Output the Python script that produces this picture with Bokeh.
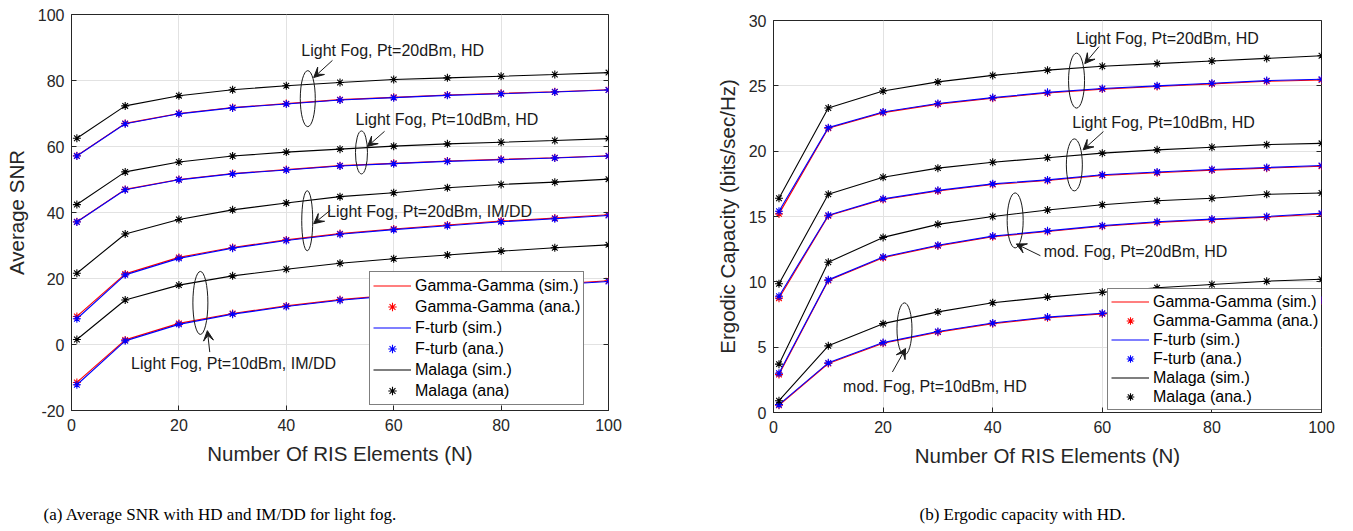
from bokeh.plotting import figure
from bokeh.models import (Legend, LegendItem, Arrow, VeeHead, FixedTicker,
                          LinearAxis, Title, Range1d, Spacer)
from bokeh.layouts import row, column
from bokeh.core.properties import value
from bokeh.embed import file_html
from bokeh.resources import INLINE

# ---------------- data ----------------
N = [1, 10, 20, 30, 40, 50, 60, 70, 80, 90, 100]

# (a) Average SNR
snr_gg_hd20 = [57.2, 67.0, 70.0, 71.8, 73.0, 74.2, 74.9, 75.6, 76.1, 76.6, 77.2]
snr_ft_hd20 = [57.1, 66.9, 69.9, 71.7, 72.9, 74.1, 74.8, 75.5, 76.0, 76.5, 77.1]
snr_ml_hd20 = [62.5, 72.3, 75.4, 77.2, 78.4, 79.4, 80.3, 80.8, 81.3, 81.8, 82.4]
snr_gg_hd10 = [37.2, 47.0, 50.0, 51.8, 53.0, 54.2, 54.9, 55.6, 56.1, 56.6, 57.2]
snr_ft_hd10 = [37.1, 46.9, 49.9, 51.7, 52.9, 54.1, 54.8, 55.5, 56.0, 56.5, 57.1]
snr_ml_hd10 = [42.4, 52.3, 55.3, 57.1, 58.3, 59.2, 60.1, 60.8, 61.3, 61.8, 62.4]
snr_gg_im20 = [8.5, 21.4, 26.4, 29.4, 31.7, 33.6, 35.0, 36.2, 37.4, 38.3, 39.3]
snr_ft_im20 = [7.8, 21.1, 26.1, 29.2, 31.5, 33.4, 34.8, 36.0, 37.2, 38.1, 39.1]
snr_ml_im20 = [21.6, 33.5, 37.9, 40.8, 42.9, 44.8, 46.0, 47.5, 48.5, 49.2, 50.1]
snr_gg_im10 = [-11.5, 1.4, 6.4, 9.4, 11.7, 13.6, 15.0, 16.2, 17.4, 18.3, 19.3]
snr_ft_im10 = [-12.2, 1.1, 6.1, 9.2, 11.5, 13.4, 14.8, 16.0, 17.2, 18.1, 19.1]
snr_ml_im10 = [1.5, 13.5, 18.0, 20.8, 22.8, 24.6, 26.0, 27.1, 28.3, 29.3, 30.2]

# (b) Ergodic capacity
cap_gg_l20 = [15.2, 21.75, 22.95, 23.6, 24.05, 24.45, 24.75, 24.95, 25.15, 25.35, 25.45]
cap_ft_l20 = [15.4, 21.8, 23.0, 23.65, 24.1, 24.5, 24.8, 25.0, 25.2, 25.4, 25.5]
cap_ml_l20 = [16.4, 23.3, 24.6, 25.3, 25.8, 26.2, 26.5, 26.7, 26.9, 27.1, 27.3]
cap_gg_l10 = [8.75, 15.05, 16.3, 16.95, 17.45, 17.75, 18.15, 18.35, 18.55, 18.7, 18.85]
cap_ft_l10 = [8.9, 15.1, 16.35, 17.0, 17.5, 17.8, 18.2, 18.4, 18.6, 18.75, 18.9]
cap_ml_l10 = [9.85, 16.7, 18.0, 18.7, 19.15, 19.5, 19.85, 20.1, 20.3, 20.5, 20.6]
cap_gg_m20 = [2.9, 10.1, 11.85, 12.75, 13.45, 13.85, 14.25, 14.55, 14.75, 14.95, 15.2]
cap_ft_m20 = [3.0, 10.15, 11.9, 12.8, 13.5, 13.9, 14.3, 14.6, 14.8, 15.0, 15.25]
cap_ml_m20 = [3.7, 11.5, 13.4, 14.4, 15.0, 15.5, 15.9, 16.2, 16.4, 16.7, 16.8]
cap_gg_m10 = [0.55, 3.75, 5.3, 6.15, 6.8, 7.25, 7.55, 7.85, 8.1, 8.35, 8.55]
cap_ft_m10 = [0.6, 3.8, 5.35, 6.2, 6.85, 7.3, 7.6, 7.9, 8.15, 8.4, 8.6]
cap_ml_m10 = [0.9, 5.1, 6.8, 7.7, 8.4, 8.83, 9.2, 9.55, 9.8, 10.05, 10.2]

x_ticks = [0, 20, 40, 60, 80, 100]
snr_ticks = [-20, 0, 20, 40, 60, 80, 100]
cap_ticks = [0, 5, 10, 15, 20, 25, 30]

snr_labels = ["Gamma-Gamma (sim.)", "Gamma-Gamma (ana.)", "F-turb (sim.)",
              "F-turb (ana.)", "Malaga (sim.)", "Malaga (ana)"]
cap_labels = ["Gamma-Gamma (sim.)", "Gamma-Gamma (ana.)", "F-turb (sim.)",
              "F-turb (ana.)", "Malaga (sim.)", "Malaga (ana.)"]

# annotations: text (label, x, y), ellipse (x, y, w_px, h_px), arrow (x0, y0, x1, y1)
snr_notes = [
    ("Light Fog, Pt=20dBm, HD", 42.8, 89.1, 44.0, 74.5, 15, 56, 48.6, 86.1, 45.1, 80.9),
    ("Light Fog, Pt=10dBm, HD", 52.9, 68.2, 54.0, 58.2, 12, 43, 58.3, 64.6, 55.1, 60.0),
    ("Light Fog, Pt=20dBm, IM/DD", 47.6, 40.4, 43.9, 37.5, 11, 60, 48.2, 40.7, 45.1, 36.6),
    ("Light Fog, Pt=10dBm, IM/DD", 11.1, -5.85, 24.0, 12.6, 15, 63, 25.75, -2.3, 25.3, 4.2),
]
cap_notes = [
    ("Light Fog, Pt=20dBm, HD", 55.2, 28.6, 55.3, 25.4, 16, 55, 59.4, 28.0, 56.8, 26.7),
    ("Light Fog, Pt=10dBm, HD", 54.5, 22.2, 54.9, 18.95, 16, 52, 60.2, 21.5, 56.5, 20.1),
    ("mod. Fog, Pt=20dBm, HD", 49.3, 12.35, 44.1, 14.7, 16, 55, 48.7, 12.0, 44.3, 12.9),
    ("mod. Fog, Pt=10dBm, HD", 12.7, 2.0, 23.9, 6.4, 15, 52, 21.7, 3.1, 24.1, 4.9),
]

FONT = "Liberation Sans"
DARK = "#262626"


def add_caption(p, caption, gap, offset):
    # empty axis used only as vertical space, then the caption as a left-aligned title
    pad = LinearAxis(ticker=FixedTicker(ticks=[]), axis_line_color=None,
                     major_tick_line_color=None, minor_tick_line_color=None,
                     major_label_text_font_size="0px", major_label_standoff=0,
                     major_tick_in=0, major_tick_out=0, minor_tick_out=0,
                     axis_label="\u00a0", axis_label_text_font_size="17px",
                     axis_label_text_color="#ffffff", axis_label_standoff=gap)
    p.add_layout(pad, "below")
    cap = Title(text=caption, align="left", offset=offset, standoff=0,
                text_font="Liberation Serif", text_font_size="17px",
                text_font_style="normal", text_color="#000000")
    p.add_layout(cap, "below")


def make_fig(width, height, bl, br, bt, bb, yr, yticks, ylabel, groups, labels, notes,
             leg_loc, leg_row):
    p = figure(width=width, height=height, output_backend="svg", toolbar_location=None,
               x_range=Range1d(0, 100), y_range=Range1d(*yr),
               min_border_left=bl, min_border_right=br, min_border_top=bt,
               min_border_bottom=bb, background_fill_color="white",
               border_fill_color="white", outline_line_color=DARK,
               outline_line_width=1)
    p.xaxis.ticker = FixedTicker(ticks=x_ticks)
    p.yaxis.ticker = FixedTicker(ticks=yticks)
    p.yaxis.major_label_overrides = {t: str(t) for t in yticks}
    p.xaxis.axis_label = "Number Of RIS Elements (N)"
    p.yaxis.axis_label = ylabel
    for ax in (p.xaxis[0], p.yaxis[0]):
        ax.major_label_text_font = FONT
        ax.major_label_text_font_size = "16px"
        ax.major_label_text_color = DARK
        ax.axis_label_text_font = FONT
        ax.axis_label_text_font_size = "20.5px"
        ax.axis_label_text_font_style = "normal"
        ax.axis_label_text_color = DARK
        ax.axis_line_color = DARK
        ax.major_tick_in = 5
        ax.major_tick_out = 0
        ax.major_tick_line_color = DARK
        ax.minor_tick_line_color = None
    p.xaxis.major_label_standoff = 8
    p.xaxis.axis_label_standoff = 8
    p.yaxis.major_label_standoff = 7
    p.yaxis.axis_label_standoff = 7
    rax = LinearAxis(ticker=FixedTicker(ticks=yticks), major_label_text_font_size="0px",
                     major_label_text_color=None, axis_line_color=None,
                     major_tick_in=5, major_tick_out=0, major_tick_line_color=DARK,
                     minor_tick_line_color=None, major_label_standoff=0)
    p.add_layout(rax, "right")
    p.xgrid.grid_line_color = "#e2e2e2"
    p.ygrid.grid_line_color = "#e2e2e2"

    first = {}
    for gg, ft, ml in groups:
        for key, ys, col in (("gg", gg, "#ff0000"), ("ft", ft, "#0000ff"), ("ml", ml, "#000000")):
            ln = p.line(N, ys, line_color=col, line_width=1.1)
            sc = p.scatter(N, ys, marker="asterisk", size=8, line_color=col, line_width=1.1)
            first.setdefault(key, (ln, sc))

    for (txt, tx, ty, ex, ey, ew, eh, ax0, ay0, ax1, ay1) in notes:
        p.text(x=[tx], y=[ty], text=[txt], text_font=value(FONT), text_font_size="16px",
               text_color="#1a1a1a", text_baseline="middle", text_align="left")
        p.ellipse(x=[ex], y=[ey], width=[ew], height=[eh], width_units="screen",
                  height_units="screen", fill_color=None, line_color="#1a1a1a",
                  line_width=1)
        p.add_layout(Arrow(x_start=ax0, y_start=ay0, x_end=ax1, y_end=ay1,
                           line_color="#1a1a1a", line_width=1,
                           end=VeeHead(size=10, fill_color="#1a1a1a",
                                       line_color="#1a1a1a", line_width=1)))

    items = [
        LegendItem(label=labels[0], renderers=[first["gg"][0]]),
        LegendItem(label=labels[1], renderers=[first["gg"][1]]),
        LegendItem(label=labels[2], renderers=[first["ft"][0]]),
        LegendItem(label=labels[3], renderers=[first["ft"][1]]),
        LegendItem(label=labels[4], renderers=[first["ml"][0]]),
        LegendItem(label=labels[5], renderers=[first["ml"][1]]),
    ]
    leg = Legend(items=items, location=leg_loc, label_text_font=FONT,
                 label_text_font_size="16px", label_text_color="#000000",
                 glyph_width=38, glyph_height=leg_row, label_height=leg_row,
                 spacing=0, padding=3, margin=0, label_standoff=4,
                 border_line_color="#000000", border_line_width=1,
                 background_fill_color="white", background_fill_alpha=1)
    p.add_layout(leg)
    return p


p1 = make_fig(676, 531, 71, 68, 14, 121, (-20, 100), snr_ticks, "Average SNR",
              [(snr_gg_hd20, snr_ft_hd20, snr_ml_hd20),
               (snr_gg_hd10, snr_ft_hd10, snr_ml_hd10),
               (snr_gg_im20, snr_ft_im20, snr_ml_im20),
               (snr_gg_im10, snr_ft_im10, snr_ml_im10)],
              snr_labels, snr_notes, (298, 5), 21)
add_caption(p1, "(a)  Average SNR with HD and IM/DD for light fog.", 13, -28)

p2 = make_fig(677, 525, 97, 32, 14, 119, (0, 30), cap_ticks, "Ergodic Capacity (bits/sec/Hz)",
              [(cap_gg_l20, cap_ft_l20, cap_ml_l20),
               (cap_gg_l10, cap_ft_l10, cap_ml_l10),
               (cap_gg_m20, cap_ft_m20, cap_ml_m20),
               (cap_gg_m10, cap_ft_m10, cap_ml_m10)],
              cap_labels, cap_notes, (334, 2), 19)
add_caption(p2, "(b)  Ergodic capacity with HD.", 11, 146)

layout = row(p1, column(Spacer(width=677, height=6), p2, spacing=0), spacing=0)
open("out.html", "w").write(file_html(layout, INLINE))
